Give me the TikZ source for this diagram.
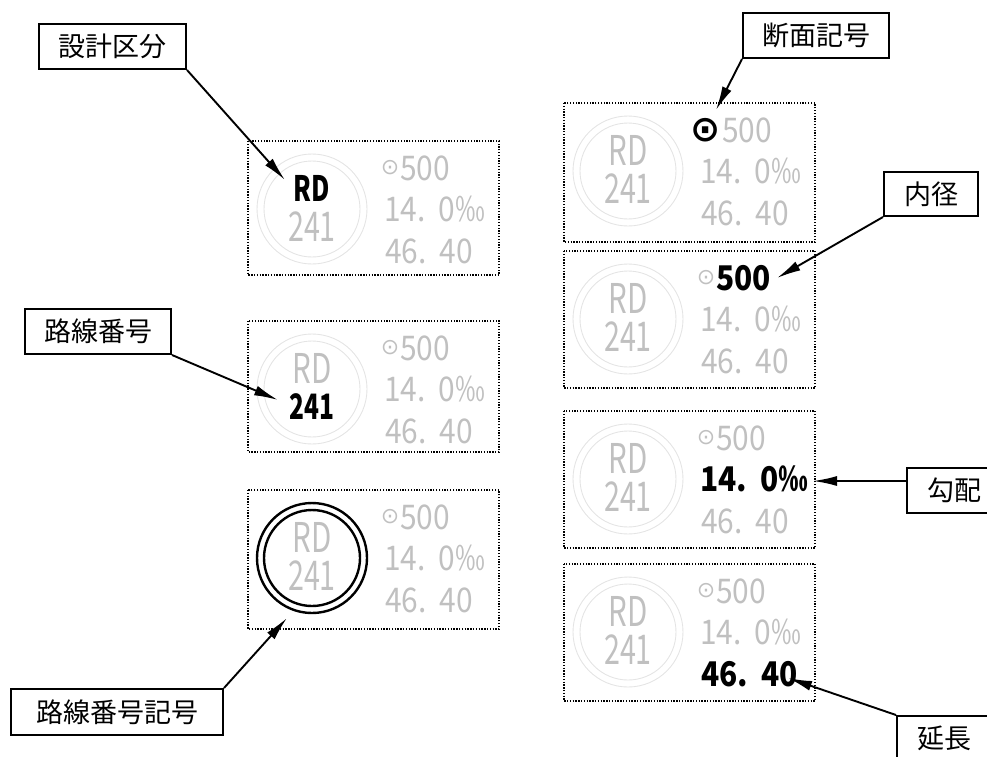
\documentclass[tikz,border=0pt]{standalone}
\usepackage{fontspec}
\usepackage{graphicx}
\setmainfont{Noto Sans CJK JP}
\newfontfamily\symfont{DejaVu Sans}
\usetikzlibrary{arrows.meta}
\definecolor{gtext}{RGB}{192,192,192}
\definecolor{gcirc}{RGB}{228,228,228}
\newcommand\sqz[2]{\scalebox{#1}[1]{#2}}
\tikzset{
  tx/.style={inner sep=0pt, text=gtext},
  rdN/.style={tx, font=\fontsize{41}{41}\selectfont},
  rdH/.style={inner sep=0pt, text=black, font=\fontsize{35}{35}\selectfont\bfseries},
  numN/.style={tx, anchor=west, font=\fontsize{34}{34}\selectfont},
  numH/.style={inner sep=0pt, anchor=west, text=black, font=\fontsize{34}{34}\selectfont\bfseries},
  symN/.style={tx, font=\symfont\fontsize{22}{22}\selectfont},
  symH/.style={inner sep=0pt, text=black, font=\symfont\bfseries\fontsize{36}{36}\selectfont},
  ringN/.style={draw=gcirc, line width=0.9pt},
  ringH/.style={draw=black, line width=2.4pt},
  rdS/.style=rdN, idS/.style=rdN, ringS/.style=ringN, symS/.style=symN,
  diaS/.style=numN, slpS/.style=numN, lenS/.style=numN,
  frameS/.style={draw=black, line width=1.3pt, dash pattern=on 1.3pt off 1.5pt},
  lbl/.style={draw=black, line width=2pt, fill=white, inner sep=0pt,
              font=\fontsize{27}{27}\selectfont},
  conn/.style={draw=black, line width=1.9pt, -{Latex[length=24pt,width=10pt]}}
}
\newcommand\panelcontent[2]{%
  \draw[frameS] (0,0) rectangle (251,#2);
  \draw[ringS] (64,68) circle[radius=55];
  \draw[ringS] (64,68) circle[radius=48];
  \node[rdS] (#1-rd) at (64,47) {\sqz{0.72}{RD}};
  \node[idS] (#1-id) at (64,86) {\sqz{0.70}{241}};
  \node[symS] (#1-sym) at (142,27) {⊙};
  \node[diaS] (#1-dia) at (152,27) {\sqz{0.88}{500}};
  \node[slpS] (#1-slp) at (136,68) {\sqz{0.88}{14.\hspace{15pt}0‰}};
  \node[lenS] (#1-len) at (137,110) {\sqz{0.88}{46.\hspace{15pt}40}};
}
\begin{document}
\begin{tikzpicture}[x=1pt, y=-1pt]
\useasboundingbox (0,0) rectangle (987,756);
% left column
\begin{scope}[shift={(248,141)}, rdS/.style=rdH]
  \panelcontent{a}{134}
\end{scope}
\begin{scope}[shift={(248,321)}, idS/.style=rdH]
  \panelcontent{b}{131}
\end{scope}
\begin{scope}[shift={(248,490)}, ringS/.style=ringH]
  \panelcontent{c}{139}
\end{scope}
% right column
\begin{scope}[shift={(564,103)}, symS/.style=symH, diaS/.style={numN, xshift=6pt}]
  \panelcontent{d}{139}
\end{scope}
\begin{scope}[shift={(564,251)}, diaS/.style=numH]
  \panelcontent{e}{137}
\end{scope}
\begin{scope}[shift={(564,411)}, slpS/.style=numH]
  \panelcontent{f}{137}
\end{scope}
\begin{scope}[shift={(564,564)}, lenS/.style=numH]
  \panelcontent{g}{137}
\end{scope}
% labels
\node[lbl, minimum width=147pt, minimum height=45pt] (k1) at (112.5,46.5) {設計区分};
\node[lbl, minimum width=146pt, minimum height=45pt] (k2) at (98,331.5) {路線番号};
\node[lbl, minimum width=212pt, minimum height=46pt] (k3) at (117,712) {路線番号記号};
\node[lbl, minimum width=146pt, minimum height=45pt] (k4) at (816,35.5) {断面記号};
\node[lbl, minimum width=94pt, minimum height=44pt] (k5) at (931,194) {内径};
\node[lbl, minimum width=94pt, minimum height=45pt] (k6) at (954,490.5) {勾配};
\node[lbl, minimum width=94pt, minimum height=45pt] (k7) at (944,738.5) {延長};
% arrow tips
\coordinate (t1) at (285,180);
\coordinate (t2) at (278,400);
\coordinate (t3) at (287,618);
\coordinate (t4) at (716,110);
\coordinate (t5) at (777,278);
\coordinate (t6) at (813,481);
\coordinate (t7) at (788,678);
\draw[conn] (k1.south east) -- (t1);
\draw[conn] (k2.south east) -- (t2);
\draw[conn] (k3.north east) -- (t3);
\draw[conn] (k4.south west) -- (t4);
\draw[conn] (k5.south west) -- (t5);
\draw[conn] ([yshift=9.5pt]k6.west) -- (t6);
\draw[conn] (k7.north west) -- (t7);
\end{tikzpicture}
\end{document}
